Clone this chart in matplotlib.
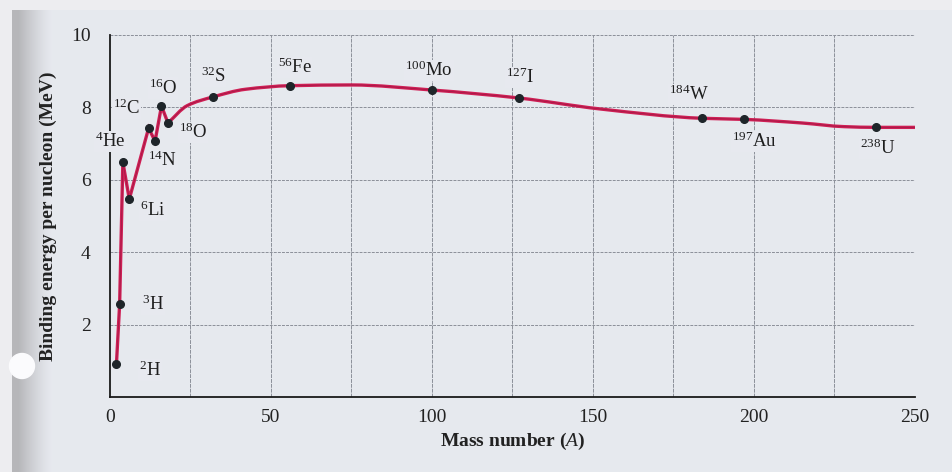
import numpy as np
import matplotlib
matplotlib.use("Agg")
import matplotlib.pyplot as plt
from matplotlib.path import Path
from matplotlib.patches import PathPatch, Circle

# Isotopes marked on the curve: mass number and binding energy per nucleon (MeV)
iso_labels = [r"$^{2}$H", r"$^{3}$H", r"$^{4}$He", r"$^{6}$Li", r"$^{12}$C",
              r"$^{14}$N", r"$^{16}$O", r"$^{18}$O", r"$^{32}$S", r"$^{56}$Fe",
              r"$^{100}$Mo", r"$^{127}$I", r"$^{184}$W", r"$^{197}$Au", r"$^{238}$U"]
iso_A = [2, 3, 4, 6, 12, 14, 16, 18, 32, 56, 100, 127, 184, 197, 238]
iso_BE = [0.91, 2.57, 6.49, 5.47, 7.43, 7.07, 8.04, 7.57, 8.29, 8.60,
          8.48, 8.26, 7.70, 7.67, 7.45]

# Trace of the smooth part of the curve (from 18O onwards)
curve_A = [18, 24, 32, 42, 56, 75, 100, 127, 152, 184, 197, 215, 228, 238, 250]
curve_BE = [7.57, 8.05, 8.29, 8.50, 8.60, 8.62, 8.48, 8.26, 7.96,
            7.70, 7.67, 7.57, 7.47, 7.45, 7.45]

x_ticks = [0, 50, 100, 150, 200, 250]
y_ticks = [2, 4, 6, 8, 10]

# Label offsets (points) and alignment for each isotope tag
label_off = [(16, -4, "left"), (16, 0, "left"), (2, 15, "right"), (8, -8, "left"),
             (-6, 14, "right"), (-5, -14, "left"), (1, 13, "center"), (8, -7, "left"),
             (0, 15, "center"), (3, 13, "center"), (-2, 14, "center"), (1, 15, "center"),
             (-10, 17, "center"), (7, -16, "center"), (1, -15, "center")]

plt.rcParams["mathtext.fontset"] = "custom"
plt.rcParams["mathtext.rm"] = "Liberation Serif"
plt.rcParams["mathtext.it"] = "Liberation Serif:italic"
plt.rcParams["font.family"] = "Liberation Serif"

paper = "#e7e9ef"
fig = plt.figure(figsize=(9.53, 4.72), dpi=100, facecolor=paper)

# page shading along the left edge and the punched hole
bg = fig.add_axes([0, 0, 1, 1], zorder=-5)
bg.set_axis_off()
W, H = 953, 472
xs = np.arange(W)
shade = np.zeros(W)
band = (xs >= 12) & (xs <= 52)
shade[band] = np.clip(1 - (xs[band] - 18) / 34.0, 0, 1) ** 1.3 * 0.85
shade[(xs >= 12) & (xs < 18)] = 0.85
base = np.array([0.905, 0.914, 0.937])
dark = np.array([0.68, 0.68, 0.69])
img = base[None, None, :] * (1 - shade[None, :, None]) + dark[None, None, :] * shade[None, :, None]
img = np.repeat(img, H, axis=0)
img[:, :12, :] = np.array([0.93, 0.93, 0.945])
img[:10, :, :] = np.array([0.93, 0.93, 0.945])
bg.imshow(img, extent=(0, W, 0, H), aspect="auto", origin="upper")
bg.add_patch(Circle((22, H - 366), 12.5, color="#fbfbfd", zorder=3))
bg.set_xlim(0, W)
bg.set_ylim(0, H)

ax = fig.add_axes([0.1154, 0.158, 0.8447, 0.768])
ax.set_facecolor("none")
ax.set_xlim(0, 250)
ax.set_ylim(0, 10)

# graph-paper grid
grid_c = "#8c9099"
for gx in np.arange(25, 251, 25):
    ax.axvline(gx, color=grid_c, lw=0.7, ls=(0, (4, 1)), zorder=1)
for gy in y_ticks:
    ax.axhline(gy, color=grid_c, lw=0.7, ls=(0, (3, 1.2)), zorder=1)

for s in ["top", "right"]:
    ax.spines[s].set_visible(False)
for s in ["left", "bottom"]:
    ax.spines[s].set_color("#1a1a1a")
    ax.spines[s].set_linewidth(1.3)

ax.set_xticks(x_ticks)
ax.set_yticks(y_ticks)
ax.tick_params(length=0, labelsize=14, colors="#222222", pad=8)
ax.tick_params(axis="y", pad=14)

ax.set_xlabel("Mass number ($\\mathit{A}$)", fontsize=14, color="#222222", labelpad=4,
              fontweight="bold")
ax.set_ylabel("Binding energy per nucleon (MeV)", fontsize=14, color="#222222",
              labelpad=10, fontweight="bold")

line_c = "#cf1f55"
core_c = "#7a1436"

# light nuclei: straight segments between the marked isotopes
n_light = iso_A.index(curve_A[0]) + 1
ax.plot(iso_A[:n_light], iso_BE[:n_light], color=line_c, lw=2.4, zorder=3,
        solid_joinstyle="miter", solid_capstyle="butt")
ax.plot(iso_A[:n_light], iso_BE[:n_light], color=core_c, lw=0.6, alpha=0.5, zorder=3)

# heavier nuclei: monotone cubic Bezier path through the traced points
cx = np.asarray(curve_A, float)
cy = np.asarray(curve_BE, float)
h = np.diff(cx)
d = np.diff(cy) / h
m = np.zeros_like(cx)
for i in range(1, len(cx) - 1):
    if d[i - 1] * d[i] > 0:
        w1 = 2 * h[i] + h[i - 1]
        w2 = h[i] + 2 * h[i - 1]
        m[i] = (w1 + w2) / (w1 / d[i - 1] + w2 / d[i])
m[0] = d[0]
m[-1] = 0.0
verts = [(cx[0], cy[0])]
codes = [Path.MOVETO]
for i in range(len(cx) - 1):
    verts += [(cx[i] + h[i] / 3, cy[i] + m[i] * h[i] / 3),
              (cx[i + 1] - h[i] / 3, cy[i + 1] - m[i + 1] * h[i] / 3),
              (cx[i + 1], cy[i + 1])]
    codes += [Path.CURVE4] * 3
path = Path(verts, codes)
ax.add_patch(PathPatch(path, fc="none", ec=line_c, lw=2.4, zorder=3))
ax.add_patch(PathPatch(path, fc="none", ec=core_c, lw=0.6, alpha=0.5, zorder=3))

ax.plot(iso_A, iso_BE, "o", color="#1e2529", ms=5.5, zorder=4)

# isotope tags sit on a paper-coloured box that hides grid and axis lines behind them
for lab, a, be, (dx, dy, ha) in zip(iso_labels, iso_A, iso_BE, label_off):
    ax.annotate(lab, (a, be), xytext=(dx, dy), textcoords="offset points",
                ha=ha, va="center", fontsize=13.5, color="#1e1e1e", zorder=2.8,
                bbox=dict(boxstyle="square,pad=0.05", fc=paper, ec="none"))

fig.savefig("out.png", dpi=100, facecolor=paper)
